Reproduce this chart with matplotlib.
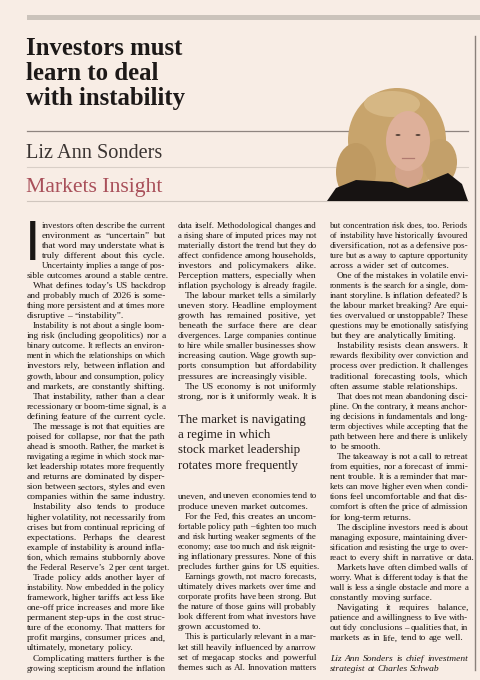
import matplotlib
matplotlib.use("Agg")
import matplotlib.pyplot as plt
from matplotlib.font_manager import FontProperties
from matplotlib.patches import Ellipse, Polygon, Rectangle

# Canvas, in pixels
W, H = 481, 680
PAPER = "#f8ede5"
INK = "#1c1715"
RED = "#a9505a"
SERIF = "Liberation Serif"

# Text content
HEADLINE = ["Investors must", "learn to deal", "with instability"]
AUTHOR = "Liz Ann Sonders"
SECTION = "Markets Insight"

LEFT_COLUMN = [
    ["investors often describe the current",
     "environment as \u201cuncertain\u201d but",
     "that word may understate what is",
     "truly different about this cycle.",
     "Uncertainty implies a range of pos-",
     "sible outcomes around a stable centre."],
    ["What defines today\u2019s US backdrop",
     "and probably much of 2026 is some-",
     "thing more persistent and at times more",
     "disruptive \u2013 \u201cinstability\u201d."],
    ["Instability is not about a single loom-",
     "ing risk (including geopolitics) nor a",
     "binary outcome. It reflects an environ-",
     "ment in which the relationships on which",
     "investors rely, between inflation and",
     "growth, labour and consumption, policy",
     "and markets, are constantly shifting."],
    ["That instability, rather than a clear",
     "recessionary or boom-time signal, is a",
     "defining feature of the current cycle."],
    ["The message is not that equities are",
     "poised for collapse, nor that the path",
     "ahead is smooth. Rather, the market is",
     "navigating a regime in which stock mar-",
     "ket leadership rotates more frequently",
     "and returns are dominated by disper-",
     "sion between sectors, styles and even",
     "companies within the same industry."],
    ["Instability also tends to produce",
     "higher volatility, not necessarily from",
     "crises but from continual repricing of",
     "expectations. Perhaps the clearest",
     "example of instability is around infla-",
     "tion, which remains stubbornly above",
     "the Federal Reserve\u2019s 2 per cent target."],
    ["Trade policy adds another layer of",
     "instability. Now embedded in the policy",
     "framework, higher tariffs act less like",
     "one-off price increases and more like",
     "permanent step-ups in the cost struc-",
     "ture of the economy. That matters for",
     "profit margins, consumer prices and,",
     "ultimately, monetary policy."],
    ["Complicating matters further is the",
     "growing scepticism around the inflation"],
]

MIDDLE_TOP = [
    ["data itself. Methodological changes and",
     "a rising share of imputed prices may not",
     "materially distort the trend but they do",
     "affect confidence among households,",
     "investors and policymakers alike.",
     "Perception matters, especially when",
     "inflation psychology is already fragile."],
    ["The labour market tells a similarly",
     "uneven story. Headline employment",
     "growth has remained positive, yet",
     "beneath the surface there are clear",
     "divergences. Large companies continue",
     "to hire while smaller businesses show",
     "increasing caution. Wage growth sup-",
     "ports consumption but affordability",
     "pressures are increasingly visible."],
    ["The US economy is not uniformly",
     "strong, nor is it uniformly weak. It is"],
]

PULL_QUOTE = ["The market is navigating", "a regime in which",
              "stock market leadership", "rotates more frequently"]

MIDDLE_BOTTOM = [
    ["uneven, and uneven economies tend to",
     "produce uneven market outcomes."],
    ["For the Fed, this creates an uncom-",
     "fortable policy path \u2013 tighten too much",
     "and risk hurting weaker segments of the",
     "economy; ease too much and risk reignit-",
     "ing inflationary pressures. None of this",
     "precludes further gains for US equities."],
    ["Earnings growth, not macro forecasts,",
     "ultimately drives markets over time and",
     "corporate profits have been strong. But",
     "the nature of those gains will probably",
     "look different from what investors have",
     "grown accustomed to."],
    ["This is particularly relevant in a mar-",
     "ket still heavily influenced by a narrow",
     "set of megacap stocks and powerful",
     "themes such as AI. Innovation matters"],
]

RIGHT_COLUMN = [
    ["but concentration risk does, too. Periods",
     "of instability have historically favoured",
     "diversification, not as a defensive pos-",
     "ture but as a way to capture opportunity",
     "across a wider set of outcomes."],
    ["One of the mistakes in volatile envi-",
     "ronments is the search for a single, dom-",
     "inant storyline. Is inflation defeated? Is",
     "the labour market breaking? Are equi-",
     "ties overvalued or unstoppable? These",
     "questions may be emotionally satisfying",
     "but they are analytically limiting."],
    ["Instability resists clean answers. It",
     "rewards flexibility over conviction and",
     "process over prediction. It challenges",
     "traditional forecasting tools, which",
     "often assume stable relationships."],
    ["That does not mean abandoning disci-",
     "pline. On the contrary, it means anchor-",
     "ing decisions in fundamentals and long-",
     "term objectives while accepting that the",
     "path between here and there is unlikely",
     "to be smooth."],
    ["The takeaway is not a call to retreat",
     "from equities, nor a forecast of immi-",
     "nent trouble. It is a reminder that mar-",
     "kets can move higher even when condi-",
     "tions feel uncomfortable and that dis-",
     "comfort is often the price of admission",
     "for long-term returns."],
    ["The discipline investors need is about",
     "managing exposure, maintaining diver-",
     "sification and resisting the urge to over-",
     "react to every shift in narrative or data."],
    ["Markets have often climbed walls of",
     "worry. What is different today is that the",
     "wall is less a single obstacle and more a",
     "constantly moving surface."],
    ["Navigating it requires balance,",
     "patience and a willingness to live with-",
     "out tidy conclusions \u2013 qualities that, in",
     "markets as in life, tend to age well."],
]

SIGNOFF = ["Liz Ann Sonders is chief investment",
           "strategist at Charles Schwab"]

# Layout
BODY_SIZE = 6.8
LH = 10.07
BODY_Y0 = 227.5
INDENT = 6.5
COLS = [(26.5, 165.5), (178.0, 316.8), (330.0, 468.3)]

fig = plt.figure(figsize=(W / 100, H / 100), dpi=100)
fig.patch.set_facecolor(PAPER)
ax = fig.add_axes([0, 0, 1, 1])
ax.set_xlim(0, W)
ax.set_ylim(H, 0)
ax.axis("off")
ax.set_facecolor(PAPER)
renderer = fig.canvas.get_renderer()


def text_w(s, size, style="normal"):
    prop = FontProperties(family=SERIF, size=size, style=style)
    w, h, d = renderer.get_text_width_height_descent(s, prop, ismath=False)
    return w


def draw_line(line, x0, x1, y, size, justify, style="normal", color=INK):
    words = line.split(" ")
    widths = [text_w(w, size, style) for w in words]
    sp = text_w("a a", size, style) - text_w("aa", size, style)
    avail = x1 - x0
    need = sum(widths) + (len(words) - 1) * sp * 0.7
    if need > avail:
        size = size * avail / need
        widths = [text_w(w, size, style) for w in words]
        sp = sp * avail / need
    if justify and len(words) > 1:
        gap = (avail - sum(widths)) / (len(words) - 1)
    else:
        gap = sp
    x = x0
    for w, wd in zip(words, widths):
        ax.text(x, y, w, fontsize=size, family=SERIF, style=style,
                color=color, ha="left", va="baseline")
        x += wd + gap


def draw_column(paragraphs, col, y0, first_cont=False, last_cont=False,
                dropcap_lines=0, dropcap_indent=0.0):
    x0, x1 = col
    n = 0
    for pi, para in enumerate(paragraphs):
        for li, line in enumerate(para):
            indent = 0.0
            if li == 0 and not (pi == 0 and first_cont):
                indent = INDENT
            if n < dropcap_lines:
                indent = dropcap_indent
            last = li == len(para) - 1
            justify = not last or (pi == len(paragraphs) - 1 and last_cont)
            draw_line(line, x0 + indent, x1, y0 + n * LH, BODY_SIZE, justify)
            n += 1
    return n


# top stripe and rules
ax.add_patch(Rectangle((27, 15), W - 27, 5, color="#cbc3bb", lw=0))
ax.plot([27, 468], [131, 131], color="#8f8580", lw=0.9)
ax.plot([27, 468], [167, 167], color="#d9cfc7", lw=0.8)
ax.plot([27, 468], [201, 201], color="#d0c6be", lw=0.8)
ax.plot([475, 475], [36, 670], color="#8a817b", lw=1.0)

# headline block
for i, line in enumerate(HEADLINE):
    ax.text(26, 55 + i * 25, line, fontsize=17.8, family=SERIF,
            weight="bold", color="#1d1918", ha="left", va="baseline")
ax.text(26, 158.3, AUTHOR, fontsize=14.6, family=SERIF, color="#3a3432",
        ha="left", va="baseline")
ax.text(26, 191.7, SECTION, fontsize=15.6, family=SERIF, color=RED,
        ha="left", va="baseline")

# portrait (stylised), drawn over the rules
pz = 3
ax.add_patch(Ellipse((397, 140), 98, 104, color="#c8a46c", lw=0, zorder=pz))
ax.add_patch(Ellipse((356, 172), 40, 58, color="#bf9a62", lw=0, zorder=pz))
ax.add_patch(Ellipse((440, 162), 34, 46, color="#c3a06a", lw=0, zorder=pz))
ax.add_patch(Ellipse((392, 104), 56, 26, color="#d6b784", lw=0, zorder=pz))
ax.add_patch(Ellipse((409, 172), 28, 30, color="#d3a38a", lw=0, zorder=pz))
ax.add_patch(Ellipse((408, 141), 44, 60, color="#deb09a", lw=0, zorder=pz))
ax.add_patch(Ellipse((398, 135), 5, 2.0, color="#5a463c", lw=0, zorder=pz))
ax.add_patch(Ellipse((418, 135), 5, 2.0, color="#5a463c", lw=0, zorder=pz))
ax.plot([402, 414], [158, 158], color="#b07a70", lw=0.9, zorder=pz)
ax.add_patch(Polygon([(327, 201), (336, 188), (356, 180), (392, 182),
                      (408, 188), (426, 182), (448, 173), (462, 184),
                      (468, 201)], closed=True, color="#171312", lw=0,
                     zorder=pz))

# body text
draw_column(LEFT_COLUMN, COLS[0], BODY_Y0, last_cont=True,
            dropcap_lines=5, dropcap_indent=15.5)
ax.text(25, 260.5, "I", fontsize=38, family="DejaVu Sans",
        color="#1a1614", ha="left", va="baseline")

draw_column(MIDDLE_TOP, COLS[1], BODY_Y0, first_cont=True, last_cont=True)
for i, line in enumerate(PULL_QUOTE):
    ax.text(COLS[1][0], 423.3 + i * 15.1, line, fontsize=9.3, family=SERIF,
            color="#221c1a", ha="left", va="baseline")
draw_column(MIDDLE_BOTTOM, COLS[1], 498.5, first_cont=True, last_cont=True)

n_right = draw_column(RIGHT_COLUMN, COLS[2], BODY_Y0, first_cont=True)
for i, line in enumerate(SIGNOFF):
    draw_line(line, COLS[2][0], COLS[2][1], BODY_Y0 + (n_right + 1 + i) * LH,
              BODY_SIZE, justify=(i == 0), style="italic")

fig.savefig("out.png", dpi=100, facecolor=PAPER)
